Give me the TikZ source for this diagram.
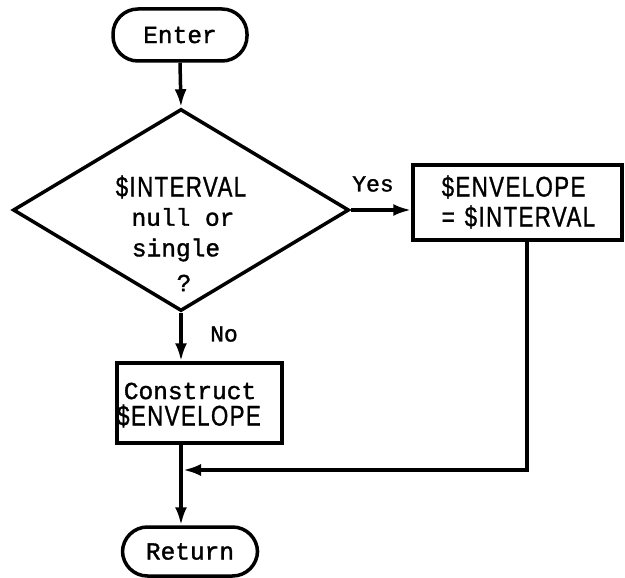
\documentclass[tikz,border=0pt]{standalone}
\usepackage{fontspec}
\usetikzlibrary{arrows.meta,shapes.geometric}
\newfontfamily\cmono[FakeBold=1.4]{Liberation Mono}
\newfontfamily\nsans[FakeStretch=0.78,LetterSpace=5,FakeBold=1]{Liberation Sans}
\begin{document}
\begin{tikzpicture}[x=1pt,y=-1pt,
  line width=3.5pt,
  flow/.style={-{Latex[length=18pt,width=12pt]}},
  pill/.style={draw,rounded corners=25pt,minimum width=134pt,minimum height=52pt,inner sep=0pt,font=\cmono\fontsize{24.5}{28}\selectfont},
  procbox/.style={draw,inner sep=0pt},
  mono/.style={inner sep=0pt,font=\cmono\fontsize{24.5}{28}\selectfont},
  sans/.style={inner sep=0pt,font=\nsans\fontsize{28.5}{30}\selectfont},
  lbl/.style={inner sep=0pt,font=\cmono\fontsize{23}{26}\selectfont}]
\useasboundingbox (0,0) rectangle (625,578);
% terminals
\node[pill] (enter) at (180,35) {Enter};
\node[pill,minimum height=49pt,minimum width=135pt] (return) at (190,551.5) {Return};
% decision
\node[draw,shape=diamond,minimum width=336pt,minimum height=202pt,inner sep=0pt] (dec) at (181,210) {};
\node[sans] (d1) at (181,187) {\$INTERVAL};
\node[mono] (d2) at (183,217) {null or};
\node[mono] (d3) at (176,250) {single};
\node[mono] (d4) at (184,283) {?};
% process boxes
\node[procbox,minimum width=209pt,minimum height=75pt] (yesbox) at (517.5,202.5) {};
\node[sans,anchor=west] (y1) at (440,187) {\$ENVELOPE};
\node[sans,anchor=west] (y2) at (440,217) {=\hspace{10pt}\$INTERVAL};
\node[procbox,minimum width=165pt,minimum height=80pt] (cons) at (199.5,403) {};
\node[mono] (c1) at (190,391) {Construct};
\node[sans] (c2) at (189,416) {\$ENVELOPE};
% labels
\node[lbl] (yes) at (373,184) {Yes};
\node[lbl] (no) at (224,334) {No};
% connectors
\coordinate (corner) at (527,470);
\coordinate (join) at (183,470);
\draw[flow] (enter.south) -- (dec.north);
\draw[flow] (dec.east) -- (yesbox.west |- dec.east);
\draw[flow] (dec.south) -- (dec.south |- cons.north);
\draw[flow] (dec.south |- cons.south) -- (dec.south |- return.north);
\draw[flow] (yesbox.south -| corner) -- (corner) -- (join);
\end{tikzpicture}
\end{document}
